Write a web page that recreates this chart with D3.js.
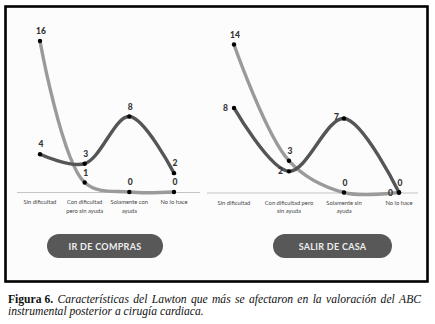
<!DOCTYPE html>
<html><head><meta charset="utf-8">
<script src="https://cdn.jsdelivr.net/npm/d3@7"></script>
<style>html,body{margin:0;padding:0;background:#fff;}svg{display:block;}</style>
</head><body>
<svg id="c" width="435" height="324"></svg>
<script>
// ---- data ----
const catsLeft = [["Sin dificultad"], ["Con dificultad", "pero sin ayuda"], ["Solamente con", "ayuda"], ["No lo hace"]];
const catsRight = [["Sin dificultad"], ["Con dificultad pero", "sin ayuda"], ["Solamente sin", "ayuda"], ["No lo hace"]];
const leftDark = [4, 3, 8, 2];
const leftLight = [16, 1, 0, 0];
const rightDark = [8, 2, 7, 0];
const rightLight = [14, 3, 0, 0];
const buttonLeft = "IR DE COMPRAS";
const buttonRight = "SALIR DE CASA";
const captionBold = "Figura 6.";
const captionLine1 = "Características del Lawton que más se afectaron en la valoración del ABC";
const captionLine2 = "instrumental posterior a cirugía cardiaca.";

// label placement (style)
const placeLeftDark = ["above", "above", "above", "above"];
const placeLeftLight = ["above", "above", "above", "above"];
const placeRightDark = ["left", "left", "leftup", "above"];
const placeRightLight = ["above", "above", "above", "left"];

const svg = d3.select("#c");
svg.append("rect").attr("width", 435).attr("height", 324).attr("fill", "#fff");
svg.append("rect").attr("x", 5.5).attr("y", 6.5).attr("width", 422).attr("height", 275)
  .attr("fill", "#fcfcfc").attr("stroke", "#000").attr("stroke-width", 2.6);

const DARK = "#555", LIGHT = "#9a9a9a";

function panel(cats, dark, light, pDark, pLight, xr, yr, ymax, axisX, btn, btnX) {
  const keys = cats.map(c => c.join(" "));
  const x = d3.scalePoint().domain(keys).range(xr);
  const y = d3.scaleLinear().domain([0, ymax]).range(yr);
  const g = svg.append("g");
  // axis baseline
  g.append("line").attr("x1", axisX[0]).attr("x2", axisX[1])
    .attr("y1", y(0) + 0.5).attr("y2", y(0) + 0.5).attr("stroke", "#c4c4c4").attr("stroke-width", 1);
  const line = d3.line().x((d, i) => x(keys[i])).y(d => y(d)).curve(d3.curveCatmullRom.alpha(0.5));
  g.append("path").attr("d", line(light)).attr("fill", "none").attr("stroke", LIGHT)
    .attr("stroke-width", 3.4).attr("stroke-linecap", "round");
  g.append("path").attr("d", line(dark)).attr("fill", "none").attr("stroke", DARK)
    .attr("stroke-width", 3.4).attr("stroke-linecap", "round");
  [[dark, pDark], [light, pLight]].forEach(([vals, pl]) => {
    vals.forEach((v, i) => {
      const cx = x(keys[i]), cy = y(v);
      g.append("circle").attr("cx", cx).attr("cy", cy).attr("r", 2.2).attr("fill", "#000");
      let tx = cx + 1, ty = cy - 7, anchor = "middle";
      if (pl[i] === "left") { tx = cx - 6; ty = cy + 3; anchor = "end"; }
      if (pl[i] === "leftup") { tx = cx - 5; ty = cy + 1; anchor = "end"; }
      g.append("text").attr("x", tx).attr("y", ty).attr("text-anchor", anchor)
        .attr("font-family", "Lato, 'DejaVu Sans', sans-serif").attr("font-weight", "900")
        .attr("font-size", 8.5).attr("fill", "#333").text(v);
    });
  });
  // category labels
  cats.forEach((lines, i) => {
    lines.forEach((ln, j) => {
      g.append("text").attr("x", x(keys[i])).attr("y", y(0) + 12 + j * 8.5)
        .attr("text-anchor", "middle").attr("font-family", "Lato, 'DejaVu Sans', sans-serif")
        .attr("font-size", 5.8).attr("fill", "#444").text(ln);
    });
  });
  // button
  g.append("rect").attr("x", btnX[0]).attr("y", 234).attr("width", btnX[1] - btnX[0]).attr("height", 24)
    .attr("rx", 12).attr("fill", "#585858");
  g.append("text").attr("x", (btnX[0] + btnX[1]) / 2).attr("y", 249.5).attr("text-anchor", "middle")
    .attr("font-family", "Lato, 'DejaVu Sans', sans-serif").attr("font-weight", "700")
    .attr("font-size", 9).attr("letter-spacing", 0.3).attr("fill", "#eeeeee").text(btn);
}

panel(catsLeft, leftDark, leftLight, placeLeftDark, placeLeftLight, [40, 174], [192, 41], 16, [17, 200], buttonLeft, [47, 163]);
panel(catsRight, rightDark, rightLight, placeRightDark, placeRightLight, [234, 399], [192.5, 44.5], 14, [207, 418], buttonRight, [273, 392]);

// caption (justified first line)
const cap = svg.append("g").attr("font-family", "'Liberation Serif', 'DejaVu Serif', serif").attr("font-size", 11.6).attr("fill", "#111");
const left = 8, right = 421, y1 = 303, y2 = 315;
const words = [{t: captionBold, b: true}].concat(captionLine1.split(" ").map(t => ({t, b: false})));
const nodes = words.map(w => {
  const n = cap.append("text").attr("y", y1).text(w.t)
    .attr("font-weight", w.b ? "700" : "400").attr("font-style", w.b ? "normal" : "italic");
  return {n, w: n.node().getComputedTextLength()};
});
const total = d3.sum(nodes, d => d.w);
const gap = (right - left - total) / (nodes.length - 1);
let cx = left;
nodes.forEach(d => { d.n.attr("x", cx); cx += d.w + gap; });
cap.append("text").attr("x", left).attr("y", y2).attr("font-style", "italic").text(captionLine2);
</script>
</body></html>
